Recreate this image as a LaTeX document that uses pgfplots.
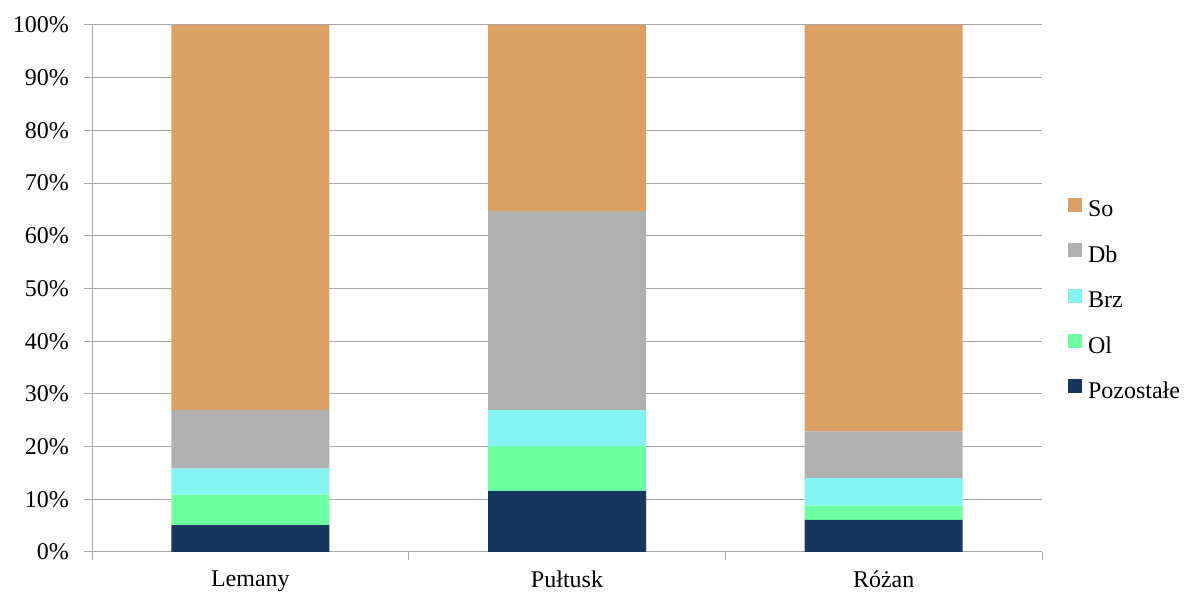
\documentclass[border=0pt]{standalone}
\usepackage{pgfplots}
\pgfplotsset{compat=1.18}
\usepackage{fontspec}
\setmainfont{Liberation Serif}
\definecolor{cPoz}{HTML}{17375E}
\definecolor{cOl}{HTML}{6FFFA3}
\definecolor{cBrz}{HTML}{85F3EF}
\definecolor{cDb}{HTML}{B0B0B0}
\definecolor{cSo}{HTML}{DBA064}
\definecolor{cGrid}{HTML}{A6A6A6}
\begin{document}
\begin{tikzpicture}
\begin{axis}[
  at={(92pt,42pt)}, anchor=south west, scale only axis,
  width=950pt, height=527pt,
  ybar stacked, bar width=158pt,
  xmin=-0.5, xmax=2.5, ymin=0, ymax=100,
  xtick={0,1,2}, xticklabels={Lemany,Pułtusk,Różan},
  major x tick style={draw=none},
  minor xtick={-0.5,0.5,1.5,2.5},
  ytick={0,10,...,100},
  yticklabels={0\%,10\%,20\%,30\%,40\%,50\%,60\%,70\%,80\%,90\%,100\%},
  ymajorgrids, grid style={cGrid, line width=1pt},
  axis x line*=bottom, axis y line*=left,
  axis line style={cGrid, line width=1pt, -},
  tick align=outside, major tick length=8pt, minor tick length=8pt,
  tick style={cGrid, line width=1pt},
  every tick label/.append style={font=\fontsize{24}{28}\selectfont, text=black},
  yticklabel style={inner sep=0pt, xshift=-15pt},
  xticklabel style={inner sep=0pt, yshift=-11pt},
  legend style={draw=none, fill=none, inner sep=0pt, outer sep=0pt,
    at={(1,0.477)}, anchor=west, xshift=26pt,
    font=\fontsize{24}{28}\selectfont, row sep=21.4pt,
    nodes={inner sep=0pt, text height=15pt, text depth=5pt},
    /tikz/every odd column/.append style={column sep=6pt}},
  legend cell align=left,
  reverse legend,
  legend image code/.code={\fill[#1] (0pt,0pt) rectangle (14pt,14pt);},
]
\addplot[fill=cPoz, draw=none] coordinates {(0,5.1) (1,11.6) (2,6.1)};
\addplot[fill=cOl, draw=none] coordinates {(0,5.8) (1,8.5) (2,2.7)};
\addplot[fill=cBrz, draw=none] coordinates {(0,4.9) (1,6.8) (2,5.2)};
\addplot[fill=cDb, draw=none] coordinates {(0,11.1) (1,37.8) (2,8.9)};
\addplot[fill=cSo, draw=none] coordinates {(0,73.1) (1,35.3) (2,77.1)};
\legend{Pozostałe,Ol,Brz,Db,So}
\end{axis}
\pgfresetboundingbox
\path[use as bounding box] (0,0) rectangle (1191pt,594pt);
\end{tikzpicture}
\end{document}
